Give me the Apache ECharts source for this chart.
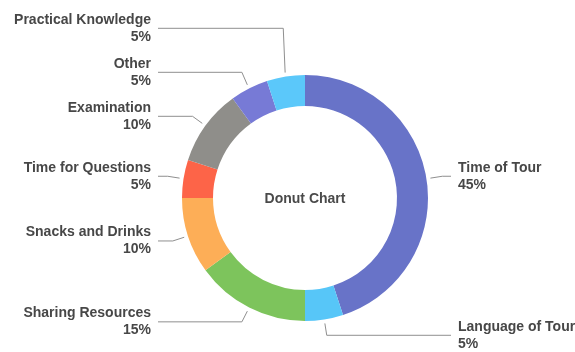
<!DOCTYPE html>
<html>
<head>
<meta charset="utf-8">
<script src="https://cdn.jsdelivr.net/npm/echarts@6/dist/echarts.min.js"></script>
<style>
  html, body { margin: 0; padding: 0; background: #ffffff; }
  #chart { width: 575px; height: 352px; }
</style>
</head>
<body>
<div id="chart"></div>
<script>
// Share of feedback topics (percent), clockwise from 12 o'clock
const categories = [
  'Time of Tour',
  'Language of Tour',
  'Sharing Resources',
  'Snacks and Drinks',
  'Time for Questions',
  'Examination',
  'Other',
  'Practical Knowledge'
];
const shares = [45, 5, 15, 10, 5, 10, 5, 5];
const sliceColors = ['#6873c8', '#57c6f8', '#7dc45c', '#fdae57', '#fd6448', '#8f8e8a', '#777ad6', '#5bc8fa'];
const centerTitle = 'Donut Chart';

// Layout of the ring and the two label columns
const ringCenter = [305, 198];
const ringRadius = [92, 123];
const leaderGap = 4;       // space between ring and start of leader line
const leaderLength = 16;   // radial part of the leader (to the bend)
const leftLineEnd = 158;
const rightLineEnd = 451;
const textPad = 7;
const labelSpacing = 44;   // minimum vertical distance between stacked labels

let prevLeftY = null;
let prevRightY = null;

function placeLabel(p) {
  const pts = p.labelLinePoints;
  if (!pts) return {};
  if (p.dataIndex === 0) { prevLeftY = null; prevRightY = null; }
  const p0 = pts[0], p1 = pts[1];
  const vx = p1[0] - p0[0], vy = p1[1] - p0[1];
  const len = Math.hypot(vx, vy) || 1;
  const ux = vx / len, uy = vy / len;
  const onLeft = ux < 0;
  let y = p1[1];
  if (onLeft) {
    if (prevLeftY !== null) y = Math.min(y, prevLeftY - labelSpacing);
    prevLeftY = y;
  } else {
    if (prevRightY !== null) y = Math.max(y, prevRightY + labelSpacing);
    prevRightY = y;
  }
  const start = [p0[0] + ux * leaderGap, p0[1] + uy * leaderGap];
  const bend = [p1[0], y];
  const end = [onLeft ? leftLineEnd : rightLineEnd, y];
  return {
    x: onLeft ? leftLineEnd - textPad : rightLineEnd + textPad,
    y: y,
    align: onLeft ? 'right' : 'left',
    verticalAlign: 'middle',
    labelLinePoints: [start, bend, end]
  };
}

const chart = echarts.init(document.getElementById('chart'), null, { renderer: 'canvas' });

chart.setOption({
  animation: false,
  backgroundColor: '#ffffff',
  color: sliceColors,
  graphic: [{
    type: 'text',
    x: ringCenter[0],
    y: ringCenter[1] + 1,
    silent: true,
    style: {
      text: centerTitle,
      align: 'center',
      verticalAlign: 'middle',
      fontFamily: 'Liberation Sans',
      fontWeight: 'bold',
      fontSize: 14,
      fill: '#4a4a4a'
    }
  }],
  series: [{
    type: 'pie',
    center: ringCenter,
    radius: ringRadius,
    startAngle: 90,
    clockwise: true,
    avoidLabelOverlap: false,
    data: categories.map((name, i) => ({ name: name, value: shares[i] })),
    itemStyle: { borderWidth: 0 },
    emphasis: { disabled: true },
    label: {
      show: true,
      position: 'outside',
      formatter: '{b}\n{d}%',
      fontFamily: 'Liberation Sans',
      fontWeight: 'bold',
      fontSize: 14,
      lineHeight: 17,
      color: '#474747',
      overflow: 'none'
    },
    labelLine: {
      show: true,
      length: leaderLength,
      length2: 20,
      smooth: false,
      lineStyle: { color: '#8f8f8f', width: 1 }
    },
    labelLayout: placeLabel
  }]
});
</script>
</body>
</html>
